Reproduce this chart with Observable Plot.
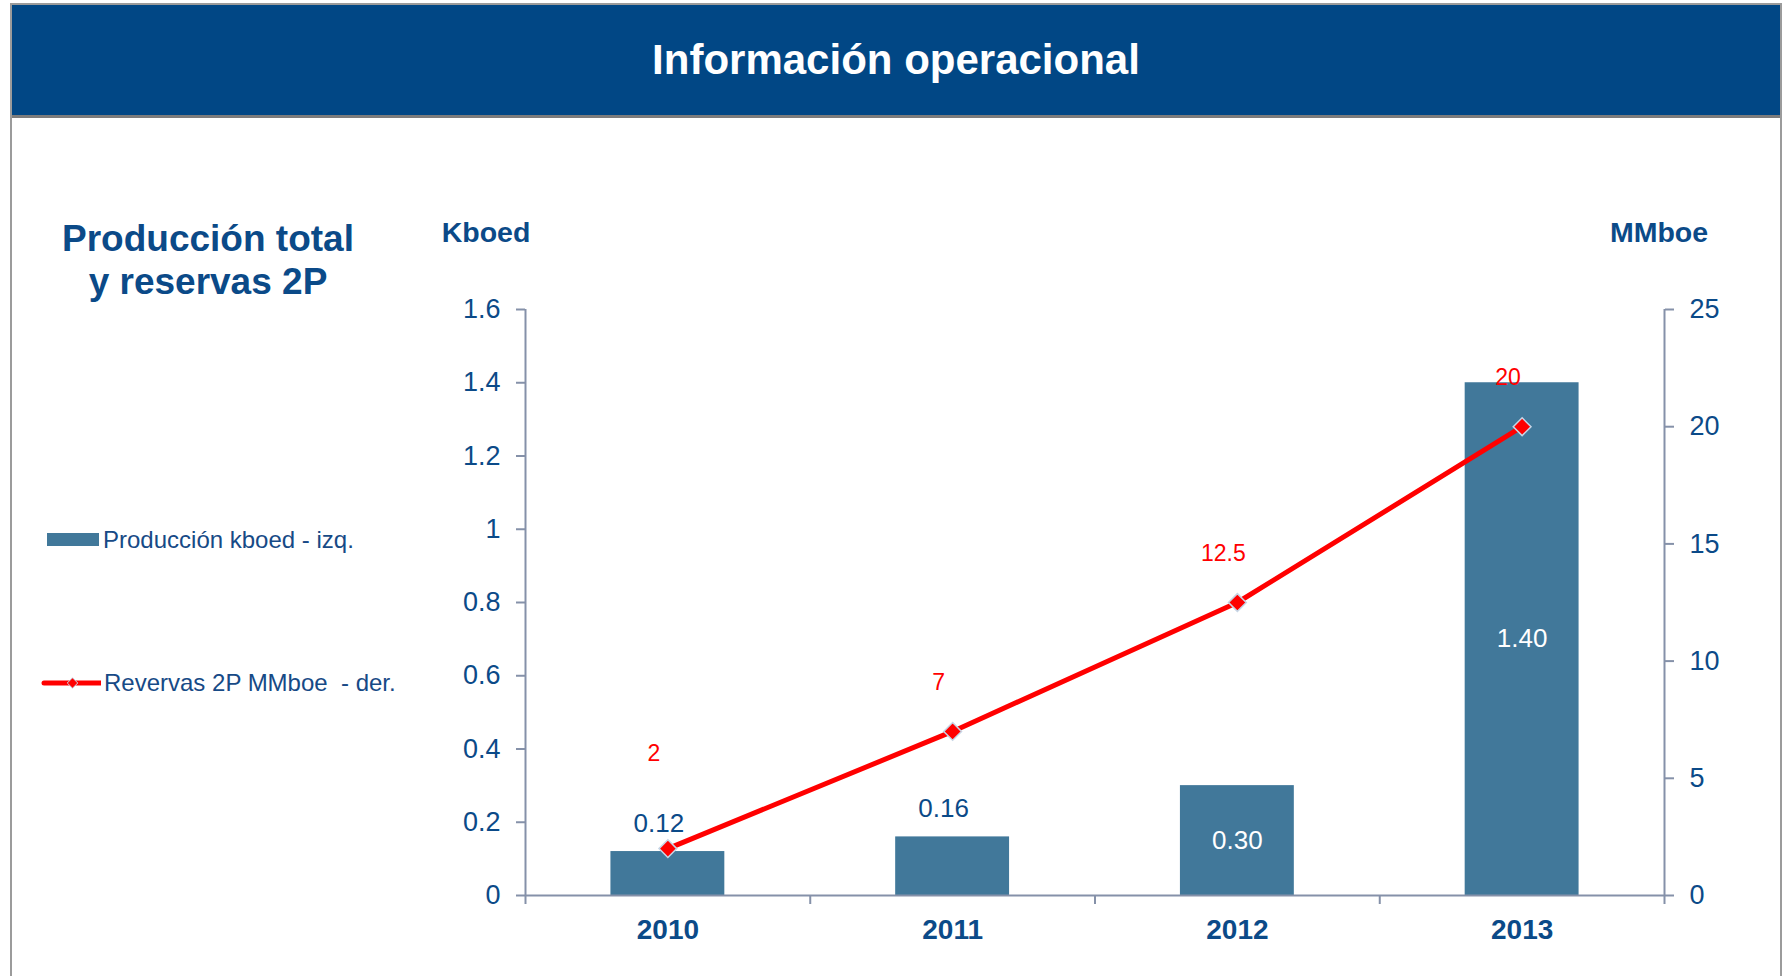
<!DOCTYPE html>
<html>
<head>
<meta charset="utf-8">
<script src="https://cdn.jsdelivr.net/npm/d3@7"></script>
<script src="https://cdn.jsdelivr.net/npm/@observablehq/plot@0.6"></script>
<style>
  html, body { margin: 0; padding: 0; background: #ffffff; }
  body { width: 1783px; height: 976px; position: relative; overflow: hidden;
         font-family: "Liberation Sans", Arial, Helvetica, sans-serif; }
  #box { position: absolute; left: 10px; top: 3px; width: 1772px; height: 1000px;
         border: 2px solid #9b9b9b; border-bottom: none; box-sizing: border-box; }
  #header { position: absolute; left: 12px; top: 5px; width: 1768px; height: 110px;
            background: #014785; border-bottom: 3px solid #7c7c7c; box-sizing: content-box;
            color: #ffffff; font-weight: bold; font-size: 42px;
            display: flex; align-items: center; justify-content: center; z-index: 2; }
  #chart { position: absolute; left: 0; top: 0; z-index: 1; }
  .ov { position: absolute; z-index: 3; color: #0b4a88; white-space: pre; }
  #subtitle { left: 0; width: 416px; top: 217px; text-align: center; font-weight: bold;
              font-size: 37px; line-height: 43px; }
  #kboed { left: 386px; width: 200px; top: 218px; text-align: center; font-weight: bold;
           font-size: 28.5px; line-height: 28px; }
  #mmboe { left: 1559px; width: 200px; top: 218px; text-align: center; font-weight: bold;
           font-size: 28.5px; line-height: 28px; }
  .leg { left: 40px; font-size: 24px; line-height: 30px; height: 30px; display: flex; align-items: center; color: #174a86; }
  .leg svg { display: block; margin-right: 3px; }
</style>
</head>
<body>
<div id="box"></div>
<div id="header">Información operacional</div>
<div id="chart"></div>
<div id="subtitle" class="ov">Producción total
y reservas 2P</div>
<div id="kboed" class="ov">Kboed</div>
<div id="mmboe" class="ov">MMboe</div>
<div id="leg1" class="ov leg" style="top:525px;"></div>
<div id="leg2" class="ov leg" style="top:668px;"></div>
<script>
// ---- data ----
const years = ["2010", "2011", "2012", "2013"];
const production = [0.12, 0.16, 0.30, 1.40];   // Kboed (left axis)
const reserves = [2, 7, 12.5, 20];               // MMboe (right axis)
const leftTicks = [0, 0.2, 0.4, 0.6, 0.8, 1, 1.2, 1.4, 1.6];
const rightTicks = [0, 5, 10, 15, 20, 25];
const seriesNames = ["Producción kboed - izq.", "Revervas 2P MMboe  - der."];

// ---- styles ----
const barColor = "#41789a";
const lineColor = "#ff0000";
const axisColor = "#8591a9";
const textColor = "#0b4a88";

// ---- layout ----
const W = 1783, H = 976;
const mL = 525, mR = W - 1664, mT = 309, mB = H - 895;
const yMax = leftTicks[leftTicks.length - 1];
const rMax = rightTicks[rightTicks.length - 1];
const k = yMax / rMax;                       // maps MMboe onto the Kboed scale
const step = (W - mL - mR) / years.length;
const pxPerUnit = (H - mT - mB) / yMax;
const insideMin = 0.2;                        // bars at least this tall get their label inside
const barLabelDy = -28;
const labelFont = 26;

const data = years.map((year, i) => {
  const prod = production[i], res = reserves[i];
  const resY = res * k;
  // keep the red label clear of an outside bar label
  const barLabelY = prod < insideMin ? prod + (-barLabelDy + labelFont * 0.8) / pxPerUnit : 0;
  return {year, prod, res, resY, redBase: Math.max(resY, barLabelY)};
});
const fmt2 = d3.format(".2f");
const fmtG = v => String(+(+v).toFixed(6));

const chart = Plot.plot({
  width: W, height: H,
  marginLeft: mL, marginRight: mR, marginTop: mT, marginBottom: mB,
  style: {background: "transparent", fontFamily: "'Liberation Sans', Arial, sans-serif", overflow: "visible"},
  x: {type: "band", domain: years, paddingInner: 0.6, paddingOuter: 0.3, round: false},
  y: {domain: [0, yMax]},
  marks: [
    Plot.barY(data, {x: "year", y: "prod", fill: barColor}),
    // baseline
    Plot.ruleY([0], {stroke: axisColor, strokeWidth: 2}),
    // left & right axis lines
    Plot.ruleX([years[0]], {x: d => d, y1: yMax, y2: 0, dx: -step / 2, insetBottom: -9, stroke: axisColor, strokeWidth: 2}),
    Plot.ruleX([years[years.length - 1]], {x: d => d, y1: yMax, y2: 0, dx: step / 2, insetBottom: -9, stroke: axisColor, strokeWidth: 2}),
    // category boundary ticks
    Plot.ruleX(years.slice(1), {x: d => d, y1: 0, y2: 0, dx: -step / 2, insetBottom: -9, stroke: axisColor, strokeWidth: 2}),
    Plot.axisY({anchor: "left", ticks: leftTicks, tickFormat: fmtG, tickSize: 9, tickPadding: 16,
                fontSize: 27, fill: textColor, stroke: axisColor, strokeWidth: 2, label: null}),
    Plot.axisY({anchor: "right", ticks: rightTicks.map(v => v * k), tickFormat: v => fmtG(v / k),
                tickSize: 9, tickPadding: 16, fontSize: 27, fill: textColor, stroke: axisColor, strokeWidth: 2, label: null}),
    Plot.axisX({tickSize: 0, tickPadding: 24, fontSize: 28, fontWeight: "bold", fill: textColor, label: null}),
    // reserves line
    Plot.line(data, {x: "year", y: "resY", stroke: lineColor, strokeWidth: 5}),
    Plot.dot(data, {x: "year", y: "resY", symbol: "diamond2", r: 8, fill: lineColor, stroke: "#c6d6e6", strokeWidth: 1.5}),
    // bar labels
    Plot.text(data.filter(d => d.prod < insideMin), {x: "year", y: "prod", text: d => fmt2(d.prod), dx: -9, dy: barLabelDy, fill: textColor, fontSize: labelFont}),
    Plot.text(data.filter(d => d.prod >= insideMin), {x: "year", y: d => d.prod / 2, text: d => fmt2(d.prod), fill: "#ffffff", fontSize: labelFont}),
    // reserve labels
    Plot.text(data, {x: "year", y: "redBase", text: d => String(d.res), dx: -14, dy: -49, fill: lineColor, fontSize: 23})
  ]
});
document.getElementById("chart").appendChild(chart);

// ---- legend ----
const leg1 = d3.select("#leg1");
const s1 = leg1.append("svg").attr("width", 60).attr("height", 30);
s1.append("rect").attr("x", 7).attr("y", 8).attr("width", 52).attr("height", 13).attr("fill", barColor);
leg1.append("span").text(seriesNames[0]);

const leg2 = d3.select("#leg2");
const s2 = leg2.append("svg").attr("width", 61).attr("height", 30);
s2.append("line").attr("x1", 4).attr("x2", 61).attr("y1", 15).attr("y2", 15)
  .attr("stroke", lineColor).attr("stroke-width", 5).attr("stroke-linecap", "round");
s2.append("path").attr("d", d3.symbol(d3.symbolDiamond2, 70)()).attr("transform", "translate(32.5,15)")
  .attr("fill", lineColor).attr("stroke", "#c6d6e6").attr("stroke-width", 1);
leg2.append("span").text(seriesNames[1]);
</script>
</body>
</html>
